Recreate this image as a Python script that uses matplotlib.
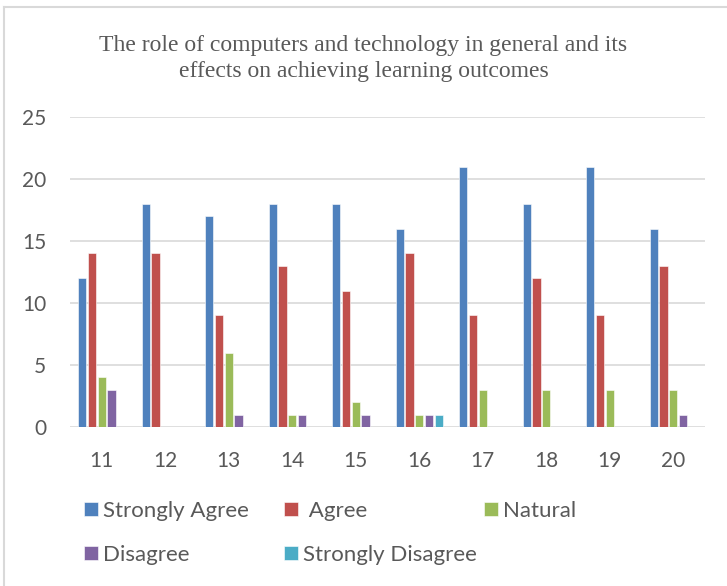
import matplotlib
matplotlib.use("Agg")
import matplotlib.pyplot as plt
import numpy as np

categories = ["11", "12", "13", "14", "15", "16", "17", "18", "19", "20"]
series_names = ["Strongly Agree", " Agree", "Natural", "Disagree", "Strongly Disagree"]
strongly_agree = [12, 18, 17, 18, 18, 16, 21, 18, 21, 16]
agree = [14, 14, 9, 13, 11, 14, 9, 12, 9, 13]
natural = [4, 0, 6, 1, 2, 1, 3, 3, 3, 3]
disagree = [3, 0, 1, 1, 1, 1, 0, 0, 0, 1]
strongly_disagree = [0, 0, 0, 0, 0, 1, 0, 0, 0, 0]
y_ticks = [0, 5, 10, 15, 20, 25]
title = "The role of computers and technology in general and its\neffects on achieving learning outcomes"

colors = ["#4F81BD", "#C0504D", "#9BBB59", "#8064A2", "#4BACC6"]
series = [strongly_agree, agree, natural, disagree, strongly_disagree]

fig = plt.figure(figsize=(7.27, 5.86), dpi=100)
ax = fig.add_axes([70/727, 1-427/586, 635/727, 310/586])

x = np.arange(len(categories))
slot = 0.153
bw = 0.128
handles = []
for i, (vals, c, name) in enumerate(zip(series, colors, series_names)):
    off = (i - 2) * slot
    b = ax.bar(x + off, vals, width=bw, color=c, edgecolor="white", linewidth=0.4, label=name, zorder=3)
    handles.append(b)

ax.set_xlim(-0.5, len(categories) - 0.5)
ax.set_ylim(0, 25)
ax.set_yticks(y_ticks)
ax.set_xticks(x)
ax.set_xticklabels(categories)
for s in ax.spines.values():
    s.set_visible(False)
ax.yaxis.grid(True, color="#d9d9d9", linewidth=1.2, zorder=0)
ax.tick_params(axis="both", length=0, labelsize=15, labelcolor="#595959")
ax.tick_params(axis="x", pad=17)
ax.tick_params(axis="y", pad=17)
for lbl in ax.get_xticklabels() + ax.get_yticklabels():
    lbl.set_fontfamily("Lato")
ax.set_axisbelow(True)

fig.text(0.5, 1-58.5/586, title, ha="center", va="center", fontsize=17,
         family="Liberation Serif", color="#595959", linespacing=1.32)

# legend entries placed individually
pos = [(84, 511), (284, 511), (484, 511), (84, 555), (284, 555)]
for h, name, (px, py) in zip(handles, series_names, pos):
    fig.legend([h], [name], loc="center left", bbox_to_anchor=(px/727, 1 - py/586),
               frameon=False, prop={"family": "Lato", "size": 16}, labelcolor="#595959",
               handlelength=0.62, handleheight=0.62, handletextpad=0.25, borderpad=0, borderaxespad=0)

# outer chart border (left and top)
fig.add_artist(plt.Line2D([4/727, 4/727], [0, 1-7/586], color="#d9d9d9", linewidth=1.5))
fig.add_artist(plt.Line2D([4/727, 1], [1-7/586, 1-7/586], color="#d9d9d9", linewidth=1.5))

fig.savefig("out.png", dpi=100)
